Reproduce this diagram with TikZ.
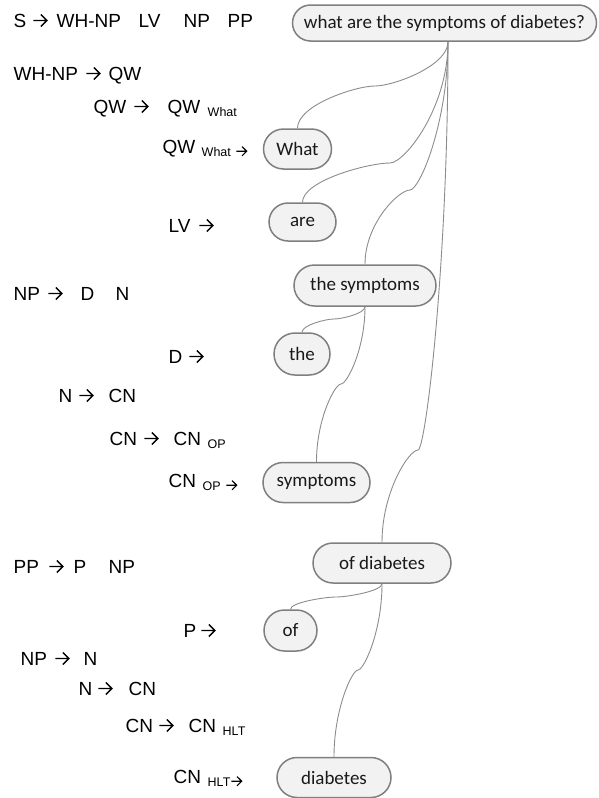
\documentclass[tikz,border=0pt]{standalone}
\usepackage{fontspec}
\setmainfont{Liberation Sans}
\newfontfamily\bubblefont{Carlito}
\usetikzlibrary{calc,shapes.misc}
\definecolor{bubline}{HTML}{7F7F7F}
\definecolor{bubfill}{HTML}{F2F2F2}
\definecolor{linkc}{HTML}{8C8C8C}
\newcommand\rarr{\tikz[baseline=0pt]{\draw[line width=1.4pt, line join=miter]
  (0pt,6.5pt) -- (13.5pt,6.5pt) (7.5pt,12.5pt) -- (13.5pt,6.5pt) -- (7.5pt,0.5pt);}}
\newcommand\sbarr{\raisebox{-3pt}{\tikz[baseline=0pt]{\draw[line width=1.1pt, line join=miter]
  (0pt,4.8pt) -- (10.5pt,4.8pt) (5.8pt,9.4pt) -- (10.5pt,4.8pt) -- (5.8pt,0.2pt);}}}
\newcommand\tk[2]{\rlap{\hspace*{#1pt}#2}}
\newcommand\sbs[1]{{\fontsize{12.5}{13}\selectfont\raisebox{-3pt}{#1}}}
\tikzset{
  rulebox/.style={anchor=base west, inner sep=0pt, font=\fontsize{19}{21}\selectfont},
  bub/.style={rounded rectangle, draw=bubline, fill=bubfill, line width=1.5pt, inner sep=0pt,
    font=\bubblefont\fontsize{19}{21}\selectfont, text=black!90},
  link/.style={draw=linkc, line width=0.9pt}
}
\newcommand\conn[3]{\draw[link] let \p1=(#1), \p2=(#3), \p3=(#2) in
  (\p1) .. controls (\x1,{\y1+0.55*(\y3-\y1)}) and ({\x3+0.25*(\x1-\x3)},\y3) .. (\p3)
        .. controls ({\x3+0.25*(\x2-\x3)},\y3) and (\x2,{\y2+0.55*(\y3-\y2)}) .. (\p2);}
\begin{document}
\begin{tikzpicture}[x=1pt,y=-1pt]
\useasboundingbox (0,0) rectangle (598,798);
% rules on the left
\node[rulebox] (l1) at (13,27) {\tk{0}{S}\tk{19}{\rarr}\tk{43}{WH-NP}\tk{125}{LV}\tk{170}{NP}\tk{214}{PP}};
\node[rulebox] (l2) at (13,80) {\tk{0}{WH-NP}\tk{72}{\rarr}\tk{95}{QW}};
\node[rulebox] (l3) at (93,113) {\tk{0}{QW}\tk{40}{\rarr}\tk{74}{QW}\tk{114}{\sbs{What}}};
\node[rulebox] (l4) at (162,153) {\tk{0}{QW}\tk{39}{\sbs{What}}\tk{73}{\sbarr}};
\node[rulebox] (l5) at (168,232) {\tk{0}{LV}\tk{30}{\rarr}};
\node[rulebox] (l6) at (13,300) {\tk{0}{NP}\tk{34}{\rarr}\tk{67}{D}\tk{102}{N}};
\node[rulebox] (l7) at (168,363) {\tk{0}{D}\tk{20}{\rarr}};
\node[rulebox] (l8) at (58,402) {\tk{0}{N}\tk{20}{\rarr}\tk{50}{CN}};
\node[rulebox] (l9) at (109,445) {\tk{0}{CN}\tk{34}{\rarr}\tk{64}{CN}\tk{98}{\sbs{OP}}};
\node[rulebox] (l10) at (168,487) {\tk{0}{CN}\tk{34}{\sbs{OP}}\tk{57}{\sbarr}};
\node[rulebox] (l11) at (13,573) {\tk{0}{PP}\tk{35}{\rarr}\tk{60}{P}\tk{95}{NP}};
\node[rulebox] (l12) at (183,637) {\tk{0}{P}\tk{17}{\rarr}};
\node[rulebox] (l13) at (20,665) {\tk{0}{NP}\tk{34}{\rarr}\tk{63}{N}};
\node[rulebox] (l14) at (78,695) {\tk{0}{N}\tk{19}{\rarr}\tk{50}{CN}};
\node[rulebox] (l15) at (125,732) {\tk{0}{CN}\tk{33}{\rarr}\tk{63}{CN}\tk{97}{\sbs{HLT}}};
\node[rulebox] (l16) at (173,783) {\tk{0}{CN}\tk{34}{\sbs{HLT}}\tk{57}{\sbarr}};
% bubbles
\node[bub, minimum width=304pt, minimum height=36pt] (root) at (444.5,23) {what are the symptoms of diabetes?};
\node[bub, minimum width=68pt, minimum height=40pt] (what) at (297.5,149) {What};
\node[bub, minimum width=67pt, minimum height=38pt] (are) at (302.5,222) {are};
\node[bub, minimum width=142pt, minimum height=41pt] (thesym) at (365,285.5) {the symptoms};
\node[bub, minimum width=56pt, minimum height=42pt] (the) at (302,354) {the};
\node[bub, minimum width=107pt, minimum height=40pt] (sym) at (316.5,482.5) {symptoms};
\node[bub, minimum width=138pt, minimum height=40pt] (ofdia) at (382,563) {of diabetes};
\node[bub, minimum width=53pt, minimum height=41pt] (of) at (290.5,630.5) {of};
\node[bub, minimum width=114pt, minimum height=40pt] (dia) at (334,777.5) {diabetes};
% connectors
\coordinate (rs) at ([xshift=3.5pt]root.south);
\coordinate (m1) at (375,86);
\coordinate (m2) at (390,163);
\coordinate (m3) at (410,190);
\coordinate (m4) at (418,450);
\coordinate (m5) at (334,319);
\coordinate (m6) at (341,384);
\coordinate (m7) at (336,597);
\coordinate (m8) at (358,670);
\conn{rs}{m1}{what.north}
\conn{rs}{m2}{are.north}
\conn{rs}{m3}{thesym.north}
\conn{rs}{m4}{ofdia.north}
\conn{thesym.south}{m5}{the.north}
\conn{thesym.south}{m6}{sym.north}
\conn{ofdia.south}{m7}{of.north}
\conn{ofdia.south}{m8}{dia.north}
\end{tikzpicture}
\end{document}
